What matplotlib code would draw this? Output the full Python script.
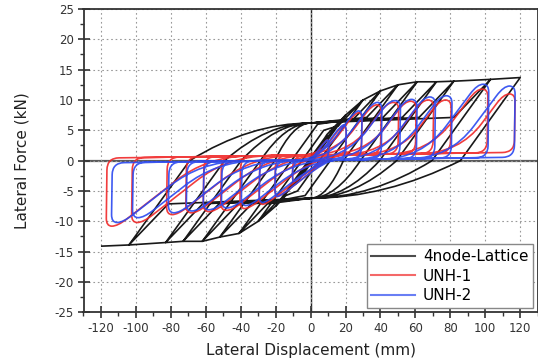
"""Cyclic lateral force-displacement comparison: 4node-Lattice model vs UNH tests."""

import matplotlib
matplotlib.use("Agg")
import matplotlib.pyplot as plt
from matplotlib.path import Path
from matplotlib.patches import PathPatch
from matplotlib.lines import Line2D
from matplotlib.ticker import MultipleLocator

plt.rcParams["font.family"] = ["DejaVu Sans"]
plt.rcParams["axes.unicode_minus"] = False

# ── Data (cycle peaks, mm / kN) ──────────────────────────────────────────────
LATTICE_POS_DISP = [10, 20, 30, 40, 50, 61, 72, 82, 103, 120]
LATTICE_POS_FORCE = [4.0, 7.5, 10.0, 11.5, 12.5, 13.0, 13.0, 13.1, 13.4, 13.7]
LATTICE_NEG_DISP = [-10, -20, -30, -41, -52, -62, -73, -83, -104, -120]
LATTICE_NEG_FORCE = [-4.0, -7.5, -10.0, -12.0, -12.6, -13.3, -13.3, -13.5, -13.9, -14.1]
LATTICE_PINCH_FORCE = 6.2

UNH1_POS_DISP = [10, 20, 29, 40, 50, 60, 70, 80, 101, 116.6]
UNH1_POS_FORCE = [3.0, 5.3, 7.5, 8.8, 9.2, 9.4, 9.6, 9.6, 11.4, 10.6]
UNH1_NEG_DISP = [-10, -20, -29, -40, -51, -61, -71, -82, -102, -116.5]
UNH1_NEG_FORCE = [-3.0, -5.5, -6.8, -7.5, -7.8, -8.0, -8.2, -8.5, -9.8, -10.4]
UNH1_SLIP_FORCE = 0.9      # force along the pinched plateau at zero displacement

UNH2_POS_DISP = [10, 20, 29, 40.4, 51, 60.5, 71, 80.5, 101.5, 116.6]
UNH2_POS_FORCE = [3.0, 5.5, 7.8, 9.2, 9.5, 9.7, 10.1, 10.3, 12.2, 11.9]
UNH2_NEG_DISP = [-10, -20, -29, -39.2, -50.6, -61, -70.7, -81, -101.5, -113.5]
UNH2_NEG_FORCE = [-3.0, -5.5, -6.5, -7.0, -7.4, -7.7, -7.9, -8.2, -9.0, -9.8]
UNH2_SLIP_FORCE = 0.1

X_TICKS = list(range(-120, 121, 20))
Y_TICKS = list(range(-25, 26, 5))

# ── Style ────────────────────────────────────────────────────────────────────
_LATTICE_COLOR = "#000000"
_UNH1_COLOR = "#f02828"
_UNH2_COLOR = "#2a48f0"
_PX_PER_MM = 1.747
_PX_PER_KN = 6.06


def _lattice_path(pos_d, pos_f, neg_d, neg_f, pinch, k_unload=0.4, k_reload=0.3):
    """Pinched loops of the lattice model, built from the cycle peaks."""
    verts = [(0.0, 0.0)]
    codes = [Path.MOVETO]

    def line(p):
        verts.append(p)
        codes.append(Path.LINETO)

    def curve(c, p):
        verts.extend([c, p])
        codes.extend([Path.CURVE3, Path.CURVE3])

    def half(tip_from, target, prev, s):
        pos_x = 0.0
        level = pinch
        if tip_from is not None:
            xt, ft = tip_from
            level = min(pinch, 0.5 * abs(ft))
            xz = xt + s * abs(ft) / k_unload
            xm = xz + s * level / k_unload
            if s * xm < 0:
                line((xz, 0.0))
                curve((xz * 0.5, s * level), (0.0, s * level))
                pos_x = 0.0
            else:
                line((xm, s * level))
                pos_x = xm
        if prev is None:
            line(target)
            return
        level2 = level * 1.15
        x2 = prev[0] - s * (abs(prev[1]) - level2) / k_reload
        if s * (x2 - pos_x) > 0:
            line((x2, s * level2))
        line(prev)
        line(target)

    prev_p = prev_n = None
    for dp, fp, dn, fn in zip(pos_d, pos_f, neg_d, neg_f):
        half(prev_n, (dp, fp), prev_p, +1)
        half((dp, fp), (dn, fn), prev_n, -1)
        prev_p, prev_n = (dp, fp), (dn, fn)
    return Path(verts, codes)


def _rounded_path(corners, radii):
    """Polyline through the corners, each corner rounded by a quadratic Bezier."""
    verts = [corners[0]]
    codes = [Path.MOVETO]
    for i in range(1, len(corners) - 1):
        ax_, ay = corners[i - 1]
        cx, cy = corners[i]
        bx, by = corners[i + 1]
        r = radii[i]
        da = (((cx - ax_) * _PX_PER_MM) ** 2 + ((cy - ay) * _PX_PER_KN) ** 2) ** 0.5
        db = (((cx - bx) * _PX_PER_MM) ** 2 + ((cy - by) * _PX_PER_KN) ** 2) ** 0.5
        ta = min(r / da, 0.5) if da > 0 else 0
        tb = min(r / db, 0.5) if db > 0 else 0
        verts.append((cx + (ax_ - cx) * ta, cy + (ay - cy) * ta))
        codes.append(Path.LINETO)
        verts.extend([(cx, cy), (cx + (bx - cx) * tb, cy + (by - cy) * tb)])
        codes.extend([Path.CURVE3, Path.CURVE3])
    verts.append(corners[-1])
    codes.append(Path.LINETO)
    return Path(verts, codes)


def _pinched_loops(pos_d, pos_f, neg_d, neg_f, slip, tilt=0.004, k_pos=0.38, k_neg=0.22):
    """Strongly pinched test loops: slip plateau, loading diagonal, stiff unloading."""
    def lev(x):
        return slip + tilt * x

    corners = [(0.0, lev(0.0))]
    radii = [0]
    for dp, fp, dn, fn in zip(pos_d, pos_f, neg_d, neg_f):
        wp = min(6.0, 0.12 * dp)          # width of the rounded crown
        wn = min(6.0, 0.12 * abs(dn))
        fpc = fp + 0.4
        fnc = fn - 0.4
        x0 = dp - wp - (fpc - lev(dp)) / k_pos
        x0n = dn + wn + (lev(dn) - fnc) / k_neg
        corners += [(x0, lev(x0)), (dp - wp, fpc), (dp + 0.5, fpc), (dp, lev(dp)),
                    (x0n, lev(x0n)), (dn + wn, fnc), (dn - 0.5, fnc), (dn, lev(dn))]
        radii += [40, 12, 8, 12, 40, 12, 8, 12]
    corners.append((0.0, lev(0.0)))
    radii.append(0)
    return _rounded_path(corners, radii)


fig = plt.figure(figsize=(5.38, 3.63), dpi=100)
ax = fig.add_axes([83.5 / 538, 1 - 312.3 / 363, (537.7 - 83.5) / 538, (312.3 - 9) / 363])

ax.axhline(0, color="#5a5a5a", lw=1.6, zorder=1.5)
ax.axvline(0, color="#222222", lw=1.0, zorder=1.5)

series = [
    (_lattice_path(LATTICE_POS_DISP, LATTICE_POS_FORCE, LATTICE_NEG_DISP,
                   LATTICE_NEG_FORCE, LATTICE_PINCH_FORCE), _LATTICE_COLOR, "4node-Lattice"),
    (_pinched_loops(UNH1_POS_DISP, UNH1_POS_FORCE, UNH1_NEG_DISP, UNH1_NEG_FORCE,
                    UNH1_SLIP_FORCE), _UNH1_COLOR, "UNH-1"),
    (_pinched_loops(UNH2_POS_DISP, UNH2_POS_FORCE, UNH2_NEG_DISP, UNH2_NEG_FORCE,
                    UNH2_SLIP_FORCE), _UNH2_COLOR, "UNH-2"),
]
handles = []
for z, (path, color, label) in enumerate(series):
    ax.add_patch(PathPatch(path, fill=False, edgecolor=color, lw=1.2,
                           alpha=0.9, zorder=3 + z, joinstyle="round"))
    handles.append(Line2D([], [], color=color, lw=1.5, alpha=0.7, label=label))

ax.set_xlim(-130, 130)
ax.set_ylim(-25, 25)
ax.set_xticks(X_TICKS)
ax.set_yticks(Y_TICKS)
ax.xaxis.set_minor_locator(MultipleLocator(10))
ax.yaxis.set_minor_locator(MultipleLocator(2.5))
ax.tick_params(which="major", direction="inout", length=8, width=1.2,
               color="#333333", labelsize=8.5, labelcolor="#333333", pad=3)
ax.tick_params(which="minor", direction="out", length=3, width=1.0, color="#333333")
ax.grid(which="major", color="#999999", linestyle=(0, (1.5, 2.5)), lw=0.8, zorder=0)
for sp in ax.spines.values():
    sp.set_color("#333333")
    sp.set_linewidth(1.3)

ax.set_xlabel("Lateral Displacement (mm)", fontsize=11, color="#222222", labelpad=6)
ax.set_ylabel("Lateral Force (kN)", fontsize=11, color="#222222", labelpad=18)

leg = ax.legend(handles=handles, loc="lower right", fontsize=11, frameon=True,
                fancybox=False, edgecolor="#888888", framealpha=1.0,
                handlelength=2.9, handletextpad=0.5, labelspacing=0.3,
                borderaxespad=0.3, borderpad=0.3)
leg.get_frame().set_linewidth(1.0)

fig.savefig("out.png", dpi=100)
